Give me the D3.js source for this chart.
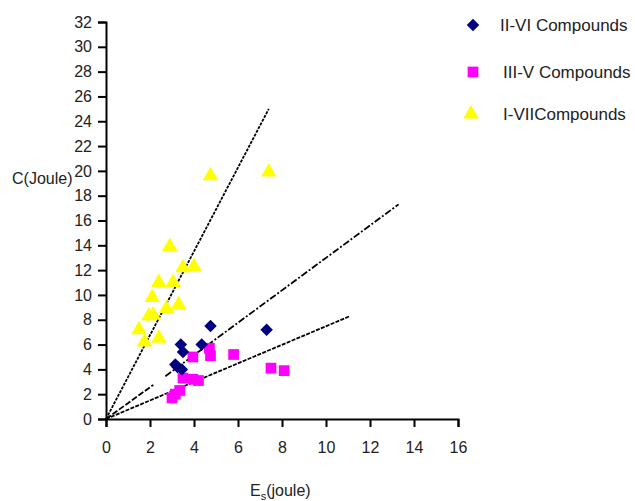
<!DOCTYPE html>
<html><head><meta charset="utf-8">
<script src="https://cdn.jsdelivr.net/npm/d3@7"></script>
<style>
body{margin:0;background:#fff;}
svg text{font-family:"Liberation Sans",Arial,sans-serif;}
</style></head>
<body><div id="chart"></div>
<script>
// Data (x = Es in joule, y = C in joule)
const seriesNames = ["II-VI Compounds", "III-V Compounds", "I-VIICompounds"];
const seriesColors = ["#000080", "#ff00ff", "#ffff00"];
const iiviX = [4.75, 7.3, 3.4, 3.5, 4.35, 3.15, 3.45, 3.25];
const iiviY = [7.5, 7.2, 6.0, 5.4, 6.0, 4.4, 4.0, 4.2];
const iiivX = [5.8, 7.5, 8.1, 4.7, 4.75, 3.95, 4.2, 3.95, 3.5, 3.35, 3.15, 3.0];
const iiivY = [5.2, 4.1, 3.9, 5.7, 5.1, 5.0, 3.1, 3.2, 3.3, 2.3, 2.0, 1.7];
const iviiX = [4.75, 7.4, 2.9, 3.5, 4.0, 2.4, 3.05, 2.1, 1.95, 2.15, 2.75, 3.3, 1.5, 1.75, 2.4];
const iviiY = [19.6, 19.9, 13.9, 12.2, 12.3, 11.0, 11.0, 9.8, 8.3, 8.4, 8.9, 9.2, 7.2, 6.2, 6.5];
// fitted lines: [x1, y1, x2, y2] in data units
const steepLine = [0, 0, 7.4, 25.0];
const midLineA = [0, 0, 2.15, 2.75];
const midLineB = [2.7, 3.45, 13.3, 17.3];
const lowLine = [0, 0, 11.1, 8.3];
const xTicks = [0, 2, 4, 6, 8, 10, 12, 14, 16];
const yTicks = [0, 2, 4, 6, 8, 10, 12, 14, 16, 18, 20, 22, 24, 26, 28, 30, 32];

const W = 635, H = 501;
const svg = d3.select("#chart").append("svg").attr("width", W).attr("height", H);
const x = d3.scaleLinear().domain([0, 16]).range([106, 458]);
const y = d3.scaleLinear().domain([0, 32]).range([419, 22]);

// fitted lines
function drawLine(seg, dash) {
  svg.append("line")
    .attr("x1", x(seg[0])).attr("y1", y(seg[1]))
    .attr("x2", x(seg[2])).attr("y2", y(seg[3]))
    .attr("stroke", "#000").attr("stroke-width", 1.8)
    .attr("stroke-dasharray", dash);
}
drawLine(steepLine, "3,1.2");
drawLine(midLineA, "6,2");
drawLine(midLineB, "7,2,2,2");
drawLine(lowLine, "4,1.3");

// axes
const xAxis = svg.append("g").attr("transform", `translate(0,${y(0)})`)
  .call(d3.axisBottom(x).tickValues(xTicks).tickSize(8).tickPadding(15));
const yAxis = svg.append("g").attr("transform", `translate(${x(0)},0)`)
  .call(d3.axisLeft(y).tickValues(yTicks).tickSize(8).tickPadding(6));
[xAxis, yAxis].forEach(g => {
  g.select(".domain").attr("stroke", "#000").attr("stroke-width", 2);
  g.selectAll(".tick line").attr("stroke", "#000").attr("stroke-width", 2);
  g.selectAll(".tick text").attr("font-size", 16).attr("fill", "#222")
    .style("font-family", "'Liberation Sans',Arial,sans-serif");
});

// markers
const diamond = d3.symbol().type(d3.symbolSquare).size(78);
const square = d3.symbol().type(d3.symbolSquare).size(115);
const tri = d3.symbol().type(d3.symbolTriangle).size(105);

svg.append("g").selectAll("path").data(d3.zip(iiivX, iiivY)).join("path")
  .attr("d", square()).attr("fill", seriesColors[1])
  .attr("transform", d => `translate(${x(d[0])},${y(d[1])})`);
svg.append("g").selectAll("path").data(d3.zip(iviiX, iviiY)).join("path")
  .attr("d", tri()).attr("fill", seriesColors[2])
  .attr("transform", d => `translate(${x(d[0])},${y(d[1])})`);
svg.append("g").selectAll("path").data(d3.zip(iiviX, iiviY)).join("path")
  .attr("d", diamond()).attr("fill", seriesColors[0])
  .attr("transform", d => `translate(${x(d[0])},${y(d[1])}) rotate(45)`);

// axis titles
svg.append("text").attr("x", 12).attr("y", 184).attr("font-size", 16).attr("fill", "#222")
  .text("C(Joule)");
const xt = svg.append("text").attr("x", 250).attr("y", 496).attr("font-size", 16).attr("fill", "#222");
xt.append("tspan").text("E");
xt.append("tspan").attr("font-size", 11).attr("dy", 4).text("s");
xt.append("tspan").attr("dy", -4).text("(joule)");

// legend
const legY = [25, 72, 114];
const legSym = [diamond, square, tri];
const legTx = [500, 503, 503];
seriesNames.forEach((n, i) => {
  svg.append("path").attr("d", legSym[i]()).attr("fill", seriesColors[i])
    .attr("transform", `translate(${i === 2 ? 471 : 473},${legY[i]})${i === 0 ? " rotate(45)" : ""}`);
  svg.append("text").attr("x", legTx[i]).attr("y", legY[i] + 6).attr("font-size", 17)
    .attr("fill", "#222").text(n);
});
</script></body></html>
